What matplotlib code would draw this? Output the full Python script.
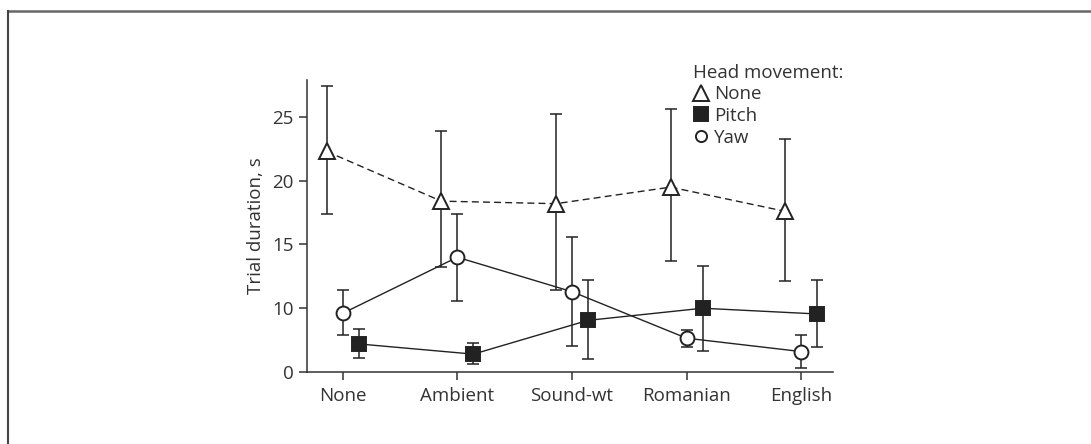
import numpy as np
import matplotlib
matplotlib.use('Agg')
import matplotlib.pyplot as plt
from matplotlib.lines import Line2D

plt.rcParams['font.family'] = ['Open Sans', 'DejaVu Sans']

conditions = ['None', 'Ambient', 'Sound-wt', 'Romanian', 'English']

# head movement: None (triangles)
none_mean = [22.3, 18.4, 18.2, 19.5, 17.6]
none_low = [17.4, 13.2, 11.4, 13.7, 12.1]
none_high = [27.4, 23.9, 25.2, 25.6, 23.3]

# head movement: Pitch (squares)
pitch_mean = [4.4, 2.8, 8.1, 10.0, 9.1]
pitch_low = [2.2, 1.2, 2.0, 3.3, 3.9]
pitch_high = [6.7, 4.6, 12.2, 13.3, 12.2]

# head movement: Yaw (circles)
yaw_mean = [9.2, 14.0, 11.3, 5.3, 3.2]
yaw_low = [5.8, 10.6, 4.1, 3.9, 0.7]
yaw_high = [11.4, 17.4, 15.6, 6.6, 5.8]

yticks = [0, 10, 15, 20, 25]


# y axis is compressed below 10 (0..10 takes the room of 5)
def fwd(v):
    v = np.asarray(v, dtype=float)
    return np.where(v < 10, 5 + v / 2, v)


def inv(p):
    p = np.asarray(p, dtype=float)
    return np.where(p < 10, (p - 5) * 2, p)


fig = plt.figure(figsize=(10.91, 4.44), dpi=100)
ax = fig.add_axes([0.2811, 0.1622, 0.4827, 0.6576])
ax.set_yscale('function', functions=(fwd, inv))

ink = '#222222'
txt = '#333333'
fs = 13.5
x = np.arange(len(conditions))
off = 0.14

series = [
    (x - off, none_mean, none_low, none_high, '^', 'white', '--', 11.5, 11, 'None'),
    (x + off, pitch_mean, pitch_low, pitch_high, 's', ink, '-', 10, 9.5, 'Pitch'),
    (x, yaw_mean, yaw_low, yaw_high, 'o', 'white', '-', 10, 8, 'Yaw'),
]

handles = []
for xs, m, lo, hi, mk, fc, ls, ms, lms, lab in series:
    m = np.array(m)
    err = [m - np.array(lo), np.array(hi) - m]
    ax.errorbar(xs, m, yerr=err, fmt='none', ecolor=ink, elinewidth=1.1,
                capsize=4, capthick=1.1, zorder=2)
    ax.plot(xs, m, linestyle=ls, color=ink, linewidth=1.0, zorder=3,
            dashes=(5, 3) if ls == '--' else (None, None))
    ax.plot(xs, m, linestyle='none', marker=mk, markersize=ms,
            markerfacecolor=fc, markeredgecolor=ink, markeredgewidth=1.4,
            zorder=4)
    handles.append(Line2D([], [], linestyle='none', marker=mk, markersize=lms,
                          markerfacecolor=fc, markeredgecolor=ink,
                          markeredgewidth=1.4, label=lab))

ax.set_xlim(-0.314, 4.28)
ax.set_ylim(0, 27.9)
ax.set_xticks(x)
ax.set_xticklabels(conditions)
ax.set_yticks(yticks)
ax.set_yticklabels([str(t) for t in yticks])
ax.yaxis.set_minor_locator(matplotlib.ticker.NullLocator())

for s in ['top', 'right']:
    ax.spines[s].set_visible(False)
for s in ['left', 'bottom']:
    ax.spines[s].set_color(txt)
    ax.spines[s].set_linewidth(1.1)
ax.tick_params(colors=txt, labelsize=fs, length=6, width=1.1, labelcolor=txt)
ax.tick_params(axis='x', pad=5)
ax.set_ylabel('Trial duration, s', fontsize=fs, color=txt, labelpad=5)

leg = fig.legend(handles=handles, title='Head movement:', loc='upper left',
                 bbox_to_anchor=(0.627, 0.878), frameon=False,
                 fontsize=fs, title_fontsize=fs, handlelength=0.8,
                 handletextpad=0.3, labelspacing=0.2, borderpad=0,
                 alignment='left')
leg.get_title().set_color(txt)
for t in leg.get_texts():
    t.set_color(txt)

# partial frame around the figure (top and left edges only)
fig.add_artist(Line2D([8 / 1091, 1.0], [1 - 11 / 444, 1 - 11 / 444],
                      transform=fig.transFigure, color='#666666', linewidth=1.8))
fig.add_artist(Line2D([8 / 1091, 8 / 1091], [0, 1 - 11 / 444],
                      transform=fig.transFigure, color='#444444', linewidth=1.5))

fig.savefig('out.png', dpi=100)
